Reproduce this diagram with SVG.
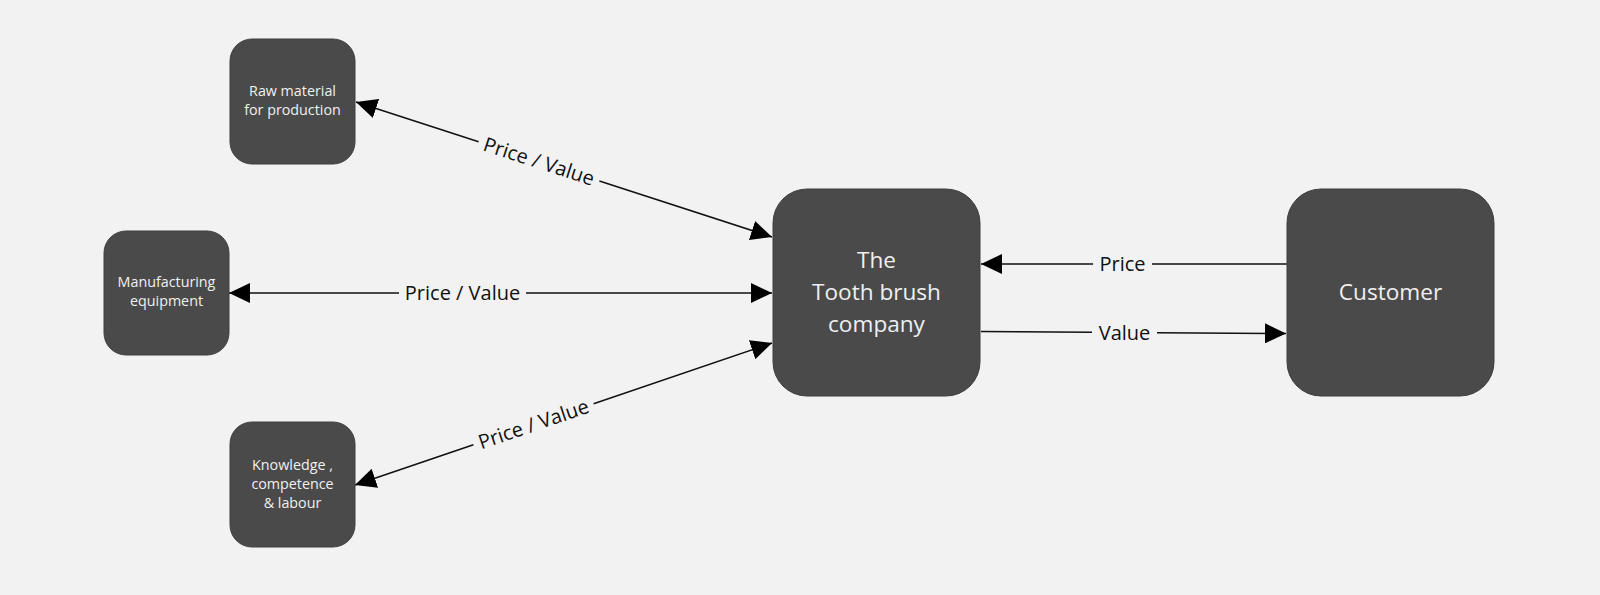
<svg xmlns="http://www.w3.org/2000/svg" width="1600" height="595" viewBox="0 0 1600 595">
<defs>
<style>
.node{fill:#4a4a4a;stroke:#3f3f3f;stroke-width:1}
.nt{font-family:"Open Sans","Noto Sans",sans-serif;fill:#f0f0f0;text-anchor:middle}
.small{font-size:14.3px}
.big{font-size:22.6px}
.edge{fill:none;stroke:#111;stroke-width:1.5}
.lbl{font-family:"Open Sans","Noto Sans",sans-serif;font-size:20px;fill:#111;text-anchor:middle}
</style>
<marker id="arr" viewBox="0 0 21 20" refX="21" refY="10" markerWidth="21" markerHeight="20" markerUnits="userSpaceOnUse" orient="auto-start-reverse">
<path d="M0,0 L21,10 L0,20 z" fill="#000"/>
</marker>
</defs>
<rect width="1600" height="595" fill="#f2f2f2"/>

<g id="connectors">
<path class="edge" d="M356,102 L478.6,141.8 M599.4,181 L772,237" marker-start="url(#arr)" marker-end="url(#arr)"/>
<g transform="translate(539,161.4) rotate(17.98)"><text class="lbl" x="0" y="7">Price / Value</text></g>

<path class="edge" d="M229,293 L399,293 M526,293 L772,293" marker-start="url(#arr)" marker-end="url(#arr)"/>
<text class="lbl" x="462.5" y="300">Price / Value</text>

<path class="edge" d="M355,485 L473.4,444.7 M593.6,403.7 L772,343" marker-start="url(#arr)" marker-end="url(#arr)"/>
<g transform="translate(533.5,424.2) rotate(-18.81)"><text class="lbl" x="0" y="7">Price / Value</text></g>

<path class="edge" d="M1287,264 L1152,264 M1093,264 L981,264" marker-end="url(#arr)"/>
<text class="lbl" x="1122.5" y="271">Price</text>

<path class="edge" d="M981,331.5 L1092,332.2 M1157,332.7 L1286,333.5" marker-end="url(#arr)"/>
<text class="lbl" x="1124.5" y="339.5">Value</text>
</g>

<g id="raw-material">
<rect class="node" x="230" y="39" width="125" height="125" rx="22"/>
<text class="nt small" x="292.5" y="96">Raw material</text>
<text class="nt small" x="292.5" y="114.5">for production</text>
</g>

<g id="manufacturing">
<rect class="node" x="104" y="231" width="125" height="124" rx="22"/>
<text class="nt small" x="166.5" y="287">Manufacturing</text>
<text class="nt small" x="166.5" y="306">equipment</text>
</g>

<g id="knowledge">
<rect class="node" x="230" y="422" width="125" height="125" rx="22"/>
<text class="nt small" x="292.5" y="470">Knowledge ,</text>
<text class="nt small" x="292.5" y="489">competence</text>
<text class="nt small" x="292.5" y="508">&amp; labour</text>
</g>

<g id="company">
<rect class="node" x="773" y="189" width="207" height="207" rx="34"/>
<text class="nt big" x="876.5" y="267.5">The</text>
<text class="nt big" x="876.5" y="299.5">Tooth brush</text>
<text class="nt big" x="876.5" y="331.5">company</text>
</g>

<g id="customer">
<rect class="node" x="1287" y="189" width="207" height="207" rx="34"/>
<text class="nt big" x="1390.5" y="300">Customer</text>
</g>
</svg>
